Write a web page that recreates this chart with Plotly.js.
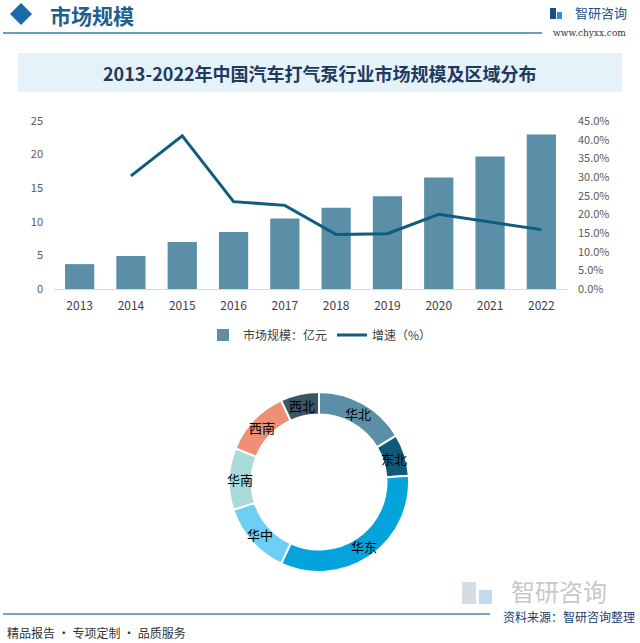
<!DOCTYPE html>
<html>
<head>
<meta charset="utf-8">
<script src="https://cdn.plot.ly/plotly-3.0.1.min.js"></script>
<style>
html,body{margin:0;padding:0;background:#fff;}
#chart{width:640px;height:643px;}
</style>
</head>
<body>
<div id="chart"></div>
<script>
const years = ['2013','2014','2015','2016','2017','2018','2019','2020','2021','2022'];
const marketSize = [3.7, 4.9, 7.0, 8.5, 10.5, 12.1, 13.8, 16.6, 19.7, 23.0];
const growthYears = ['2014','2015','2016','2017','2018','2019','2020','2021','2022'];
const growthRate = [30.3, 41.0, 23.4, 22.4, 14.6, 14.8, 20.0, 18.0, 15.9];
const regions = ['华北','东北','华东','华中','华南','西南','西北'];
const regionShare = [16.4, 7.5, 33.0, 13.1, 11.1, 12.0, 6.9];
const regionColors = ['#5b8fa8','#0f5a78','#05a3dc','#6fcff2','#a7dad8','#ef8f75','#3a5664'];
const leftTicks = [0,5,10,15,20,25];
const rightTicks = [0,5,10,15,20,25,30,35,40,45];

const W = 640, H = 643;
const px = x => x / W;
const py = y => 1 - y / H;
const FONT = '"Noto Sans CJK SC", "Noto Sans", sans-serif';

// donut geometry (pixels)
const PIE = {cx: 319, cy: 482, r: 90, hole: 0.75};

const traces = [
  {
    type: 'bar', x: years, y: marketSize, name: '市场规模：亿元',
    marker: {color: '#5b8fa8'}, xaxis: 'x', yaxis: 'y'
  },
  {
    type: 'scatter', mode: 'lines', x: growthYears, y: growthRate, name: '增速（%）',
    line: {color: '#0e5c7e', width: 3}, xaxis: 'x', yaxis: 'y2'
  },
  {
    type: 'pie', labels: regions, values: regionShare, hole: PIE.hole,
    sort: false, direction: 'clockwise', rotation: 0,
    marker: {colors: regionColors, line: {color: '#ffffff', width: 2}},
    textinfo: 'none',
    domain: {x: [px(PIE.cx - PIE.r), px(PIE.cx + PIE.r)], y: [py(PIE.cy + PIE.r), py(PIE.cy - PIE.r)]},
    showlegend: false, hoverinfo: 'label+percent'
  }
];

// ring labels placed at the middle angle of each slice
const total = regionShare.reduce((a, b) => a + b, 0);
const midR = PIE.r * (1 + PIE.hole) / 2;
let acc = 0;
const ringLabels = regions.map((name, i) => {
  const mid = (acc + regionShare[i] / 2) / total * 2 * Math.PI;
  acc += regionShare[i];
  return {
    xref: 'paper', yref: 'paper',
    x: px(PIE.cx + midR * Math.sin(mid)), y: py(PIE.cy - midR * Math.cos(mid)),
    xanchor: 'center', yanchor: 'middle', text: name, showarrow: false,
    font: {size: 13, color: '#000', family: FONT}
  };
});

const layout = {
  width: W, height: H,
  margin: {l: 0, r: 0, t: 0, b: 0},
  paper_bgcolor: '#ffffff', plot_bgcolor: 'rgba(0,0,0,0)',
  font: {family: FONT, color: '#404040'},
  bargap: 0.43,
  xaxis: {
    domain: [px(54), px(567)], anchor: 'y',
    type: 'category', showgrid: false, zeroline: false,
    showline: true, linecolor: '#d9d9d9', linewidth: 1,
    ticks: '', tickfont: {size: 12, color: '#404040'}, ticklabelstandoff: 6
  },
  yaxis: {
    domain: [py(289), py(121)], anchor: 'x',
    range: [0, 25], tickvals: leftTicks, showgrid: false, zeroline: false,
    showline: false, ticks: '', tickfont: {size: 11, color: '#595959'}, ticklabelstandoff: 10
  },
  yaxis2: {
    overlaying: 'y', side: 'right', anchor: 'x',
    range: [0, 45], tickvals: rightTicks,
    ticktext: rightTicks.map(v => v.toFixed(1) + '%'),
    showgrid: false, zeroline: false, showline: false, ticks: '',
    tickfont: {size: 11, color: '#595959'}, ticklabelstandoff: 10
  },
  showlegend: true,
  legend: {
    orientation: 'h', x: 0.5, xanchor: 'center', y: py(335), yanchor: 'middle',
    font: {size: 12, color: '#404040'}, bgcolor: 'rgba(0,0,0,0)', itemwidth: 30,
    traceorder: 'normal'
  },
  shapes: [
    // header diamond
    {type: 'path', xref: 'paper', yref: 'paper',
     path: `M ${px(10)} ${py(14)} L ${px(21)} ${py(3)} L ${px(32)} ${py(14)} L ${px(21)} ${py(25)} Z`,
     fillcolor: '#1a6aa8', line: {width: 0}},
    // header line
    {type: 'line', xref: 'paper', yref: 'paper', x0: px(3), x1: px(542), y0: py(33), y1: py(33),
     line: {color: '#6a9ec0', width: 2}},
    // header logo icon
    {type: 'rect', xref: 'paper', yref: 'paper', x0: px(550), x1: px(556), y0: py(19), y1: py(8),
     fillcolor: '#1c4f8a', line: {width: 0}},
    {type: 'rect', xref: 'paper', yref: 'paper', x0: px(557), x1: px(562), y0: py(19), y1: py(12),
     fillcolor: '#2b8fd6', line: {width: 0}},
    // title band
    {type: 'rect', xref: 'paper', yref: 'paper', x0: px(18), x1: px(622), y0: py(92), y1: py(53),
     fillcolor: '#e6f2fa', line: {width: 0}, layer: 'below'},
    // footer line
    {type: 'line', xref: 'paper', yref: 'paper', x0: px(3), x1: px(490), y0: py(614), y1: py(614),
     line: {color: '#4a86b0', width: 1.5}},
    // footer logo icon
    {type: 'rect', xref: 'paper', yref: 'paper', x0: px(462), x1: px(476), y0: py(604), y1: py(582),
     fillcolor: 'rgba(160,180,200,0.45)', line: {width: 0}},
    {type: 'rect', xref: 'paper', yref: 'paper', x0: px(479), x1: px(492), y0: py(604), y1: py(590),
     fillcolor: 'rgba(120,170,220,0.45)', line: {width: 0}}
  ],
  annotations: [
    {xref: 'paper', yref: 'paper', x: px(48), y: py(15), xanchor: 'left', yanchor: 'middle',
     text: '<b>市场规模</b>', showarrow: false, font: {size: 21, color: '#1f5f8f', family: FONT}},
    {xref: 'paper', yref: 'paper', x: px(320), y: py(73), xanchor: 'center', yanchor: 'middle',
     text: '<b>2013-2022年中国汽车打气泵行业市场规模及区域分布</b>', showarrow: false,
     font: {size: 18, color: '#1e3a5f', family: FONT}},
    {xref: 'paper', yref: 'paper', x: px(573), y: py(13), xanchor: 'left', yanchor: 'middle',
     text: '智研咨询', showarrow: false, font: {size: 13, color: '#1c4f8a', family: FONT}},
    {xref: 'paper', yref: 'paper', x: px(589), y: py(33), xanchor: 'center', yanchor: 'middle',
     text: 'www.chyxx.com', showarrow: false, font: {size: 9, color: '#333', family: '"DejaVu Serif", serif'}},
    {xref: 'paper', yref: 'paper', x: px(5), y: py(632), xanchor: 'left', yanchor: 'middle',
     text: '精品报告 · 专项定制 · 品质服务', showarrow: false, font: {size: 12, color: '#333', family: FONT}},
    {xref: 'paper', yref: 'paper', x: px(559), y: py(590), xanchor: 'center', yanchor: 'middle',
     text: '智研咨询', showarrow: false, font: {size: 24, color: 'rgba(150,150,150,0.55)', family: FONT}},
    {xref: 'paper', yref: 'paper', x: px(637), y: py(616), xanchor: 'right', yanchor: 'middle',
     text: '资料来源：智研咨询整理', showarrow: false, font: {size: 12, color: '#1c3c6a', family: FONT}}
  ].concat(ringLabels)
};

Plotly.newPlot('chart', traces, layout, {staticPlot: true, displayModeBar: false});
</script>
</body>
</html>
